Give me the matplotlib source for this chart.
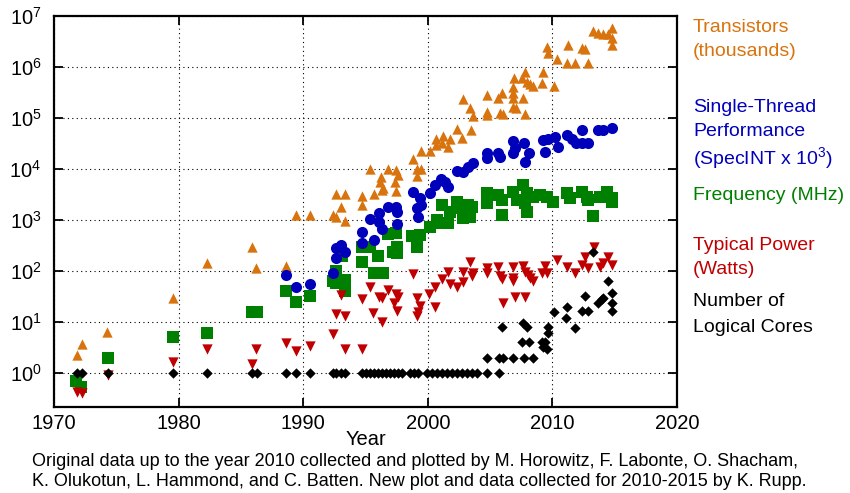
import numpy as np
import matplotlib
matplotlib.use('Agg')
import matplotlib.pyplot as plt
from matplotlib.ticker import NullLocator, LogFormatterMathtext

plt.rcParams['font.family'] = ['Liberation Sans', 'DejaVu Sans']
plt.rcParams['mathtext.fontset'] = 'custom'
plt.rcParams['mathtext.rm'] = 'Liberation Sans'
plt.rcParams['mathtext.it'] = 'Liberation Sans:italic'

# Transistors (thousands)
trans_year = [1971.85, 1972.27, 1974.28, 1979.53, 1982.26, 1985.87, 1986.21, 1988.62, 1989.42, 1990.55,
              1992.37, 1992.63, 1992.63, 1993.35, 1993.01, 1993.35, 1994.69, 1994.69, 1995.36, 1995.68,
              1996.22, 1996.16, 1996.38, 1996.3, 1996.78, 1997.45, 1997.63, 1997.37, 1997.45, 1998.84,
              1999.43, 1999.11, 1999.45, 1999.16, 2000.18, 2000.66, 2000.66, 2001.2, 2001.1, 2001.65,
              2001.78, 2002.37, 2002.72, 2003.44, 2002.8, 2003.39, 2003.6, 2004.78, 2004.78, 2004.78,
              2005.8, 2006.0, 2005.66, 2005.93, 2006.81, 2006.86, 2006.86, 2006.81, 2007.08, 2007.66,
              2007.8, 2006.9, 2007.6, 2007.8, 2007.94, 2008.2, 2008.42, 2009.14, 2009.22, 2010.13,
              2009.59, 2009.67, 2010.35, 2011.15, 2011.28, 2011.81, 2012.35, 2012.62, 2012.88, 2013.28,
              2013.68, 2014.08, 2014.49, 2014.76, 2014.76, 2014.76]
trans_val = [2.3, 3.7, 6.4, 30, 142, 290, 116, 126, 1250, 1250,
             1250, 1160, 3240, 3240, 1770, 970, 2890, 1970, 10200, 3200,
             7060, 5630, 4200, 3800, 9860, 9550, 7600, 5630, 3760, 15700,
             22900, 9860, 9860, 7300, 23000, 38700, 29600, 44400, 31900, 26600,
             38200, 60000, 39900, 58200, 233000, 155000, 110000, 282000, 133000, 115000,
             124000, 120000, 243000, 313000, 400000, 305000, 243000, 162000, 155000, 243000,
             120000, 600000, 600000, 810000, 515000, 465000, 424000, 479000, 810000, 424000,
             2.43e6, 1.9e6, 1.42e6, 1.21e6, 2.66e6, 1.21e6, 2.39e6, 2.22e6, 1.21e6, 5.08e6,
             4.57e6, 4.37e6, 4.37e6, 5.9e6, 3.76e6, 2.66e6]

# Single-thread performance (SpecINT x 10^3)
perf_year = [1988.62, 1989.42, 1990.55, 1992.37, 1992.63, 1992.63, 1993.01, 1993.35, 1994.69, 1994.69,
             1995.36, 1995.68, 1996.11, 1996.11, 1996.3, 1996.83, 1997.45, 1997.55, 1997.55, 1998.84,
             1999.37, 1999.45, 1999.11, 1999.24, 2000.18, 2000.58, 2001.06, 2001.38, 2001.65, 2002.37,
             2002.79, 2003.25, 2003.59, 2004.75, 2004.75, 2005.66, 2005.8, 2006.86, 2006.86, 2007.0,
             2007.72, 2008.15, 2007.8, 2009.27, 2009.67, 2010.21, 2009.44, 2010.47, 2011.15, 2011.55,
             2011.86, 2012.35, 2012.35, 2012.88, 2013.68, 2014.08, 2014.76]
perf_val = [83.5, 49, 55, 90, 177, 279, 323, 239, 590, 349,
            1030, 405, 1350, 926, 666, 1820, 1820, 1450, 833, 3590,
            2660, 1970, 1700, 1160, 3340, 4860, 6230, 5640, 4500, 9270,
            8850, 11100, 13100, 20300, 16200, 20300, 17200, 35900, 20300, 25500,
            31900, 20900, 13900, 37000, 38200, 42400, 21100, 26400, 47100, 38200,
            32800, 58200, 32300, 32800, 59000, 59000, 64500]

# Frequency (MHz)
freq_year = [1971.8, 1972.2, 1974.3, 1979.53, 1982.26, 1985.87, 1986.27, 1988.62, 1989.42, 1990.55,
             1992.37, 1992.63, 1992.63, 1993.11, 1993.35, 1993.35, 1994.69, 1994.69, 1995.36, 1995.68,
             1996.43, 1996.03, 1996.83, 1997.45, 1997.23, 1997.55, 1997.55, 1998.71, 1999.37, 1999.11,
             2000.18, 2000.72, 2001.12, 2001.65, 2001.12, 2001.78, 2002.32, 2002.72, 2003.25, 2003.52,
             2002.85, 2003.39, 2004.73, 2004.73, 2005.66, 2005.93, 2005.93, 2006.86, 2007.13, 2007.66,
             2007.94, 2007.8, 2007.94, 2008.47, 2009.0, 2009.54, 2010.07, 2011.15, 2011.41, 2012.35,
             2012.75, 2012.88, 2013.28, 2013.82, 2014.35, 2014.76, 2014.76]
freq_val = [0.71, 0.54, 2.0, 5.15, 6.2, 15.9, 15.9, 40.5, 25, 32,
            64, 100, 59, 197, 66.6, 41, 152, 300, 300, 90,
            90, 197, 531, 549, 239, 300, 222, 486, 508, 300,
            739, 1000, 861, 861, 1970, 1450, 2290, 1700, 1970, 1820,
            1080, 1160, 3340, 2120, 3090, 2470, 1250, 3590, 2470, 4860,
            3340, 2120, 1450, 2860, 3090, 2860, 2290, 3340, 2660, 3590,
            2860, 2470, 1220, 2860, 3590, 2660, 2290]

# Typical power (Watts)
power_year = [1971.82, 1972.22, 1974.31, 1979.53, 1982.26, 1985.87, 1986.21, 1988.62, 1989.42, 1990.55,
              1992.37, 1992.63, 1993.01, 1993.35, 1993.35, 1994.69, 1994.69, 1995.36, 1995.63, 1996.11,
              1996.3, 1996.3, 1996.83, 1997.45, 1997.63, 1997.29, 1997.5, 1998.84, 1999.11, 1999.37,
              1999.24, 1999.11, 2000.12, 2000.58, 2000.58, 2001.12, 2001.65, 2001.78, 2002.37, 2002.8,
              2002.8, 2003.39, 2003.52, 2003.6, 2004.78, 2004.78, 2005.66, 2005.8, 2005.93, 2006.0,
              2006.81, 2006.86, 2006.86, 2007.0, 2007.62, 2007.8, 2008.07, 2008.2, 2008.42, 2007.8,
              2009.14, 2009.41, 2009.54, 2010.35, 2011.15, 2011.81, 2012.35, 2012.62, 2012.88, 2013.34,
              2013.82, 2014.08, 2014.49, 2014.76]
power_val = [0.43, 0.41, 0.91, 1.67, 2.9, 1.48, 2.9, 3.8, 2.7, 3.4,
             5.7, 14.2, 33.8, 13.1, 2.9, 27.9, 2.9, 47.9, 15.2, 31.3,
             29.2, 10.1, 42.4, 35.4, 31.3, 23.3, 16.7, 85.4, 29.2, 20.6,
             15.9, 13.1, 35.4, 47.9, 19.4, 68.8, 96.9, 55.6, 47.9, 96.9,
             61.7, 152, 79.8, 90.1, 113, 90, 121, 80, 68.8, 23.9,
             121, 71.9, 64.5, 31.3, 125, 96.9, 83.5, 71.9, 64.5, 30.3,
             90, 125, 90, 164, 121, 90, 131, 191, 113, 300,
             121, 143, 192, 134]

# Number of logical cores
cores_year = [1971.82, 1972.22, 1974.31, 1979.57, 1982.26, 1985.87, 1986.27, 1988.62, 1989.42, 1990.55,
              1992.37, 1992.63, 1993.01, 1993.35, 1994.69, 1995.04, 1995.36, 1995.68, 1996.03, 1996.32,
              1996.65, 1996.97, 1997.29, 1997.61, 1997.93, 1998.57, 1998.89, 1999.21, 1999.94, 2000.34,
              2000.74, 2001.14, 2001.54, 2001.94, 2002.34, 2002.74, 2003.15, 2003.55, 2003.95, 2004.78,
              2005.74,
              2004.78, 2005.74, 2006.0, 2006.86, 2007.71, 2008.41, 2007.6, 2008.13, 2005.93, 2007.66,
              2007.94, 2009.14, 2009.41, 2009.27, 2009.54, 2009.67, 2009.67, 2010.13, 2011.15, 2011.1,
              2011.81, 2012.62, 2012.35, 2012.88, 2013.28, 2013.68, 2013.95, 2014.08, 2014.49, 2014.76,
              2014.76, 2014.76]
cores_val = [1] * 41 + [2, 2, 2, 2, 2, 2, 4, 4, 8, 9.7,
                        8, 4.1, 4.1, 3.2, 2.9, 8.1, 6.1, 15.9, 20, 12.1,
                        7.7, 32, 16.4, 16.4, 236, 23.9, 27.9, 30, 63.7, 36.5,
                        23.9, 16.4]

c_trans = '#d9730d'
c_perf = '#0000bb'
c_freq = '#008000'
c_power = '#c00000'
c_cores = '#000000'

fig = plt.figure(figsize=(8.5, 4.93), dpi=100)
ax = fig.add_axes([54 / 850, 1 - 407 / 493, 623 / 850, 391 / 493])

ax.scatter(trans_year, trans_val, marker='^', s=55, color=c_trans, linewidths=0, zorder=3)
ax.scatter(freq_year, freq_val, marker='s', s=64, color=c_freq, linewidths=0, zorder=4)
ax.scatter(perf_year, perf_val, marker='o', s=64, color=c_perf, linewidths=0, zorder=5)
ax.scatter(power_year, power_val, marker='v', s=55, color=c_power, linewidths=0, zorder=6)
ax.scatter(cores_year, cores_val, marker='D', s=28, color=c_cores, linewidths=0, zorder=7)

ax.set_yscale('log')
ax.set_xlim(1970, 2020)
ax.set_ylim(10 ** (-34 / 51), 1e7)
ax.set_xticks([1970, 1980, 1990, 2000, 2010, 2020])
ax.set_yticks([10.0 ** k for k in range(8)])
ax.yaxis.set_major_formatter(LogFormatterMathtext())
ax.yaxis.set_minor_locator(NullLocator())
ax.tick_params(direction='in', length=6.5, width=1.3, top=True, right=True, labelsize=14.5)
ax.tick_params(axis='x', pad=5)
ax.tick_params(axis='y', pad=9)
for sp in ax.spines.values():
    sp.set_linewidth(1.6)
ax.grid(True, color='black', linestyle=(0, (1, 3)), linewidth=0.8)
ax.set_axisbelow(True)
ax.set_xlabel('Year', fontsize=14.5, labelpad=-2)

# series labels on the right
lx = 693 / 850
def lab(y, s, c):
    fig.text(lx, 1 - y / 493, s, color=c, fontsize=14, va='center', ha='left')

lab(27, 'Transistors', c_trans)
lab(51, '(thousands)', c_trans)
lab(107, 'Single-Thread', c_perf)
lab(132, 'Performance', c_perf)
lab(158, '(SpecINT x 10$^3$)', c_perf)
lab(196, 'Frequency (MHz)', c_freq)
lab(246, 'Typical Power', c_power)
lab(270, '(Watts)', c_power)
lab(302, 'Number of', c_cores)
lab(327, 'Logical Cores', c_cores)

fig.text(32 / 850, 1 - 462 / 493,
         'Original data up to the year 2010 collected and plotted by M. Horowitz, F. Labonte, O. Shacham,',
         fontsize=13, va='center', ha='left')
fig.text(32 / 850, 1 - 482 / 493,
         'K. Olukotun, L. Hammond, and C. Batten. New plot and data collected for 2010-2015 by K. Rupp.',
         fontsize=13, va='center', ha='left')

fig.savefig('out.png', dpi=100)
